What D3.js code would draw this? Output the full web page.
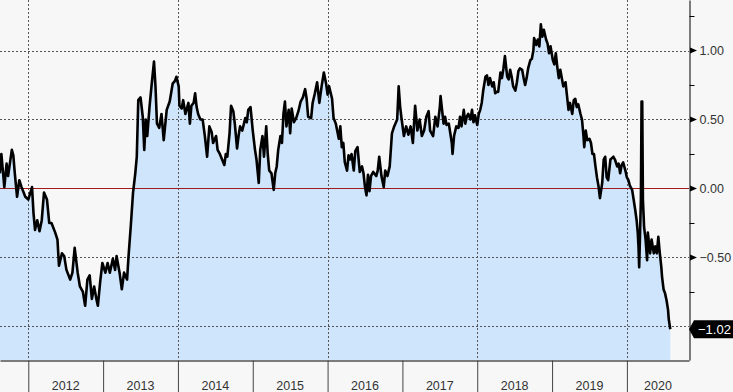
<!DOCTYPE html>
<html>
<head>
<meta charset="utf-8">
<script src="https://cdn.jsdelivr.net/npm/d3@7"></script>
<style>
  body { margin: 0; background: #f7f7f7; }
  svg { display: block; font-family: "Liberation Sans", Arial, sans-serif; }
</style>
</head>
<body>
<div id="chart"></div>
<script>
// decimal years of each observation
var times = [
  2011.62, 2011.64, 2011.68, 2011.71, 2011.73, 2011.78, 2011.80, 2011.82, 2011.85, 2011.88,
  2011.91, 2011.96, 2012.00, 2012.05, 2012.07, 2012.09, 2012.12, 2012.15, 2012.18, 2012.21,
  2012.25, 2012.28, 2012.31, 2012.36, 2012.39, 2012.41, 2012.45, 2012.48, 2012.51, 2012.56,
  2012.59, 2012.62, 2012.66, 2012.69, 2012.73, 2012.76, 2012.79, 2012.82, 2012.85, 2012.88,
  2012.91, 2012.93, 2012.96, 2012.99, 2013.03, 2013.06, 2013.09, 2013.13, 2013.16, 2013.18,
  2013.22, 2013.25, 2013.28, 2013.32, 2013.34, 2013.37, 2013.40, 2013.43, 2013.45, 2013.47,
  2013.50, 2013.53, 2013.55, 2013.57, 2013.59, 2013.62, 2013.65, 2013.68, 2013.70, 2013.72,
  2013.75, 2013.78, 2013.81, 2013.85, 2013.89, 2013.93, 2013.96, 2013.98, 2014.01, 2014.02,
  2014.05, 2014.07, 2014.10, 2014.14, 2014.16, 2014.18, 2014.21, 2014.23, 2014.25, 2014.27,
  2014.30, 2014.33, 2014.36, 2014.39, 2014.42, 2014.45, 2014.47, 2014.51, 2014.53, 2014.56,
  2014.59, 2014.62, 2014.64, 2014.66, 2014.69, 2014.71, 2014.74, 2014.76, 2014.79, 2014.81,
  2014.83, 2014.86, 2014.90, 2014.92, 2014.94, 2014.97, 2015.00, 2015.03, 2015.05, 2015.08,
  2015.10, 2015.13, 2015.15, 2015.18, 2015.20, 2015.22, 2015.25, 2015.28, 2015.30, 2015.32,
  2015.34, 2015.37, 2015.39, 2015.41, 2015.43, 2015.45, 2015.48, 2015.50, 2015.52, 2015.55,
  2015.58, 2015.61, 2015.64, 2015.67, 2015.70, 2015.72, 2015.74, 2015.78, 2015.80, 2015.83,
  2015.86, 2015.89, 2015.92, 2015.95, 2015.98, 2016.00, 2016.02, 2016.06, 2016.08, 2016.11,
  2016.15, 2016.17, 2016.19, 2016.21, 2016.23, 2016.26, 2016.28, 2016.30, 2016.32, 2016.35,
  2016.37, 2016.40, 2016.43, 2016.46, 2016.48, 2016.50, 2016.52, 2016.54, 2016.56, 2016.58,
  2016.61, 2016.65, 2016.67, 2016.69, 2016.72, 2016.75, 2016.77, 2016.80, 2016.83, 2016.86,
  2016.89, 2016.93, 2016.95, 2016.97, 2016.99, 2017.02, 2017.05, 2017.08, 2017.11, 2017.14,
  2017.17, 2017.20, 2017.23, 2017.26, 2017.29, 2017.32, 2017.35, 2017.37, 2017.41, 2017.44,
  2017.47, 2017.50, 2017.51, 2017.53, 2017.55, 2017.57, 2017.59, 2017.62, 2017.64, 2017.66,
  2017.67, 2017.69, 2017.72, 2017.75, 2017.77, 2017.79, 2017.82, 2017.84, 2017.86, 2017.88,
  2017.91, 2017.93, 2017.95, 2017.97, 2018.00, 2018.02, 2018.04, 2018.06, 2018.08, 2018.11,
  2018.13, 2018.15, 2018.17, 2018.20, 2018.22, 2018.24, 2018.26, 2018.28, 2018.31, 2018.33,
  2018.35, 2018.37, 2018.40, 2018.42, 2018.44, 2018.46, 2018.48, 2018.51, 2018.53, 2018.55,
  2018.57, 2018.60, 2018.62, 2018.64, 2018.66, 2018.68, 2018.71, 2018.73, 2018.75, 2018.76,
  2018.79, 2018.81, 2018.83, 2018.85, 2018.87, 2018.89, 2018.92, 2018.94, 2018.96, 2018.98,
  2019.01, 2019.03, 2019.05, 2019.07, 2019.09, 2019.11, 2019.13, 2019.15, 2019.18, 2019.20,
  2019.22, 2019.24, 2019.27, 2019.29, 2019.31, 2019.33, 2019.35, 2019.38, 2019.40, 2019.42,
  2019.43, 2019.45, 2019.47, 2019.50, 2019.52, 2019.54, 2019.56, 2019.58, 2019.60, 2019.62,
  2019.64, 2019.67, 2019.69, 2019.71, 2019.73, 2019.75, 2019.78, 2019.80, 2019.82, 2019.84,
  2019.87, 2019.89, 2019.91, 2019.93, 2019.95, 2019.98, 2020.00, 2020.02, 2020.04, 2020.07,
  2020.09, 2020.11, 2020.13, 2020.145, 2020.155, 2020.164, 2020.174, 2020.187, 2020.196, 2020.205,
  2020.214, 2020.23, 2020.25, 2020.27, 2020.28, 2020.30, 2020.31, 2020.33, 2020.36, 2020.38,
  2020.40, 2020.42, 2020.44, 2020.46, 2020.47, 2020.49, 2020.51, 2020.53, 2020.55, 2020.56,
  2020.58
];

var values = [
  0.11, 0.25, 0.01, 0.18, 0.09, 0.28, 0.24, 0.11, -0.06, 0.06,
  0.01, -0.06, -0.08, 0.01, -0.18, -0.30, -0.23, -0.31, -0.23, -0.03,
  -0.08, -0.25, -0.25, -0.32, -0.37, -0.56, -0.47, -0.49, -0.59, -0.66,
  -0.61, -0.43, -0.61, -0.71, -0.75, -0.85, -0.66, -0.63, -0.80, -0.71,
  -0.80, -0.85, -0.68, -0.54, -0.61, -0.54, -0.61, -0.51, -0.59, -0.49,
  -0.61, -0.73, -0.61, -0.66, -0.49, -0.27, -0.03, 0.11, 0.23, 0.64,
  0.66, 0.52, 0.28, 0.50, 0.38, 0.59, 0.76, 0.92, 0.74, 0.47,
  0.44, 0.54, 0.35, 0.57, 0.63, 0.76, 0.78, 0.81, 0.74, 0.60,
  0.58, 0.64, 0.54, 0.62, 0.47, 0.60, 0.62, 0.69, 0.59, 0.54,
  0.50, 0.50, 0.38, 0.23, 0.45, 0.41, 0.33, 0.38, 0.28, 0.25,
  0.21, 0.17, 0.25, 0.23, 0.40, 0.60, 0.56, 0.47, 0.29, 0.38,
  0.45, 0.42, 0.51, 0.48, 0.57, 0.59, 0.42, 0.28, 0.21, 0.04,
  0.28, 0.38, 0.23, 0.45, 0.25, 0.13, 0.11, -0.01, 0.11, 0.16,
  0.28, 0.38, 0.33, 0.54, 0.63, 0.45, 0.57, 0.40, 0.58, 0.48,
  0.51, 0.56, 0.63, 0.66, 0.72, 0.65, 0.52, 0.51, 0.62, 0.69,
  0.77, 0.62, 0.74, 0.84, 0.76, 0.68, 0.74, 0.65, 0.51, 0.47,
  0.36, 0.45, 0.30, 0.33, 0.19, 0.13, 0.24, 0.21, 0.25, 0.13,
  0.27, 0.30, 0.12, 0.16, 0.11, 0.01, -0.05, 0.10, -0.02, 0.09,
  0.12, 0.09, 0.13, 0.23, 0.09, 0.01, 0.13, 0.09, 0.16, 0.40,
  0.45, 0.50, 0.74, 0.59, 0.50, 0.38, 0.45, 0.39, 0.45, 0.33,
  0.60, 0.42, 0.50, 0.38, 0.42, 0.52, 0.56, 0.42, 0.38, 0.52,
  0.45, 0.59, 0.67, 0.57, 0.47, 0.52, 0.46, 0.47, 0.40, 0.33,
  0.25, 0.38, 0.45, 0.44, 0.52, 0.45, 0.57, 0.47, 0.52, 0.54,
  0.50, 0.57, 0.48, 0.53, 0.46, 0.54, 0.57, 0.62, 0.71, 0.81,
  0.82, 0.75, 0.80, 0.74, 0.77, 0.69, 0.70, 0.70, 0.84, 0.80,
  0.87, 0.96, 0.81, 0.79, 0.86, 0.81, 0.74, 0.71, 0.77, 0.85,
  0.87, 0.86, 0.80, 0.75, 0.80, 0.87, 0.93, 0.94, 1.00, 1.09,
  1.04, 1.08, 1.03, 1.19, 1.10, 1.15, 1.08, 1.05, 0.98, 1.03,
  0.93, 0.90, 0.98, 0.88, 0.80, 0.86, 0.80, 0.74, 0.77, 0.67,
  0.57, 0.62, 0.54, 0.64, 0.65, 0.59, 0.61, 0.54, 0.50, 0.38,
  0.30, 0.42, 0.35, 0.36, 0.33, 0.25, 0.25, 0.16, 0.08, 0.02,
  -0.07, 0.04, 0.21, 0.23, 0.08, 0.06, 0.21, 0.22, 0.23, 0.21,
  0.16, 0.18, 0.11, 0.17, 0.19, 0.13, 0.08, 0.06, 0.02, -0.01,
  -0.08, -0.15, -0.23, -0.32, -0.42, -0.57, -0.37, -0.08, 0.63, 0.63,
  -0.08, -0.28, -0.37, -0.52, -0.32, -0.42, -0.47, -0.37, -0.47, -0.42,
  -0.47, -0.35, -0.47, -0.57, -0.64, -0.73, -0.76, -0.81, -0.88, -0.95,
  -1.02
];

var yearTicks = [2012, 2013, 2014, 2015, 2016, 2017, 2018, 2019, 2020];
var gridYears = [2012, 2014, 2016, 2018, 2020];
var majorTicks = [1.00, 0.50, 0.00, -0.50];
var minorTicks = [1.25, 0.75, 0.25, -0.25, -0.75];
var gridValues = [1.00, 0.50, -0.50, -1.00];

var width = 733, height = 392;
var plotRight = 689, plotBottom = 360;

var svg = d3.select("#chart").append("svg")
    .attr("width", width)
    .attr("height", height);

var x = d3.scaleLinear().domain([2011.622, 2020.83]).range([0, plotRight]);
var y = d3.scaleLinear().domain([-1.243, 1.366]).range([plotBottom, 0]);

var data = d3.zip(times, values);

// area under the line
svg.append("path")
    .datum(data)
    .attr("fill", "#cfe5fb")
    .attr("d", d3.area()
        .x(function (d) { return x(d[0]); })
        .y0(plotBottom)
        .y1(function (d) { return y(d[1]); }));

// dashed grid
svg.append("g").selectAll("line")
    .data(gridValues)
    .enter().append("line")
    .attr("x1", 0).attr("x2", plotRight)
    .attr("y1", function (d) { return Math.round(y(d)) + 0.5; })
    .attr("y2", function (d) { return Math.round(y(d)) + 0.5; })
    .attr("stroke", "#555")
    .attr("stroke-dasharray", "2,2");

svg.append("g").selectAll("line")
    .data(gridYears)
    .enter().append("line")
    .attr("x1", function (d) { return Math.round(x(d)) + 0.5; })
    .attr("x2", function (d) { return Math.round(x(d)) + 0.5; })
    .attr("y1", 0).attr("y2", plotBottom)
    .attr("stroke", "#555")
    .attr("stroke-dasharray", "2,2");

// zero line
svg.append("line")
    .attr("x1", 0).attr("x2", plotRight)
    .attr("y1", Math.round(y(0)) + 0.5).attr("y2", Math.round(y(0)) + 0.5)
    .attr("stroke", "#a01c1c")
    .attr("stroke-width", 1.2);

// the series
svg.append("path")
    .datum(data)
    .attr("fill", "none")
    .attr("stroke", "#000")
    .attr("stroke-width", 2.6)
    .attr("stroke-linejoin", "round")
    .attr("d", d3.line()
        .x(function (d) { return x(d[0]); })
        .y(function (d) { return y(d[1]); }));

// x axis: separators between years
var xAxis = svg.append("g")
    .attr("transform", "translate(0," + (plotBottom + 0.5) + ")")
    .call(d3.axisBottom(x).tickValues(yearTicks).tickSize(32).tickSizeOuter(0).tickFormat(""));
xAxis.select(".domain").attr("stroke", "#000");
xAxis.selectAll(".tick line").attr("stroke", "#444");

// year labels, centred in the visible part of each year
svg.append("g").selectAll("text")
    .data(yearTicks)
    .enter().append("text")
    .attr("x", function (d) {
        var a = Math.max(x(d), 0), b = Math.min(x(d + 1), plotRight);
        return (a + b) / 2;
    })
    .attr("y", 390)
    .attr("text-anchor", "middle")
    .attr("fill", "#333")
    .style("font-size", "12.5px")
    .text(function (d) { return d; });

// right axis
var yAxis = svg.append("g")
    .attr("transform", "translate(" + (plotRight + 0.5) + ",0)")
    .call(d3.axisRight(y).tickValues(majorTicks).tickSize(0).tickPadding(10)
        .tickFormat(d3.format(".2f")));
yAxis.select(".domain").attr("stroke", "#000");
yAxis.selectAll(".tick text")
    .attr("fill", "#333")
    .style("font-size", "12.5px")
    .style("font-family", "'Liberation Sans', Arial, sans-serif");

var minorAxis = svg.append("g")
    .attr("transform", "translate(" + (plotRight + 0.5) + ",0)")
    .call(d3.axisRight(y).tickValues(minorTicks).tickSize(5).tickFormat(""));
minorAxis.select(".domain").remove();
minorAxis.selectAll(".tick line").attr("stroke", "#000");

// arrow markers on the labelled ticks
svg.append("g").selectAll("path")
    .data(majorTicks)
    .enter().append("path")
    .attr("fill", "#000")
    .attr("d", function (d) {
        var ty = y(d);
        return "M" + (plotRight + 1) + "," + (ty - 3) + "L" + (plotRight + 8) + "," + ty +
            "L" + (plotRight + 1) + "," + (ty + 3) + "Z";
    });

// last value tag
var last = values[values.length - 1];
var ly = y(last);
svg.append("path")
    .attr("fill", "#000")
    .attr("d", "M" + plotRight + "," + ly + "L" + (plotRight + 5) + "," + (ly - 9) +
        "L" + width + "," + (ly - 9) + "L" + width + "," + (ly + 9) +
        "L" + (plotRight + 5) + "," + (ly + 9) + "Z");
svg.append("text")
    .attr("x", plotRight + 9)
    .attr("y", ly + 4.5)
    .attr("fill", "#fff")
    .style("font-size", "13px")
    .text(d3.format(".2f")(last));
</script>
</body>
</html>
